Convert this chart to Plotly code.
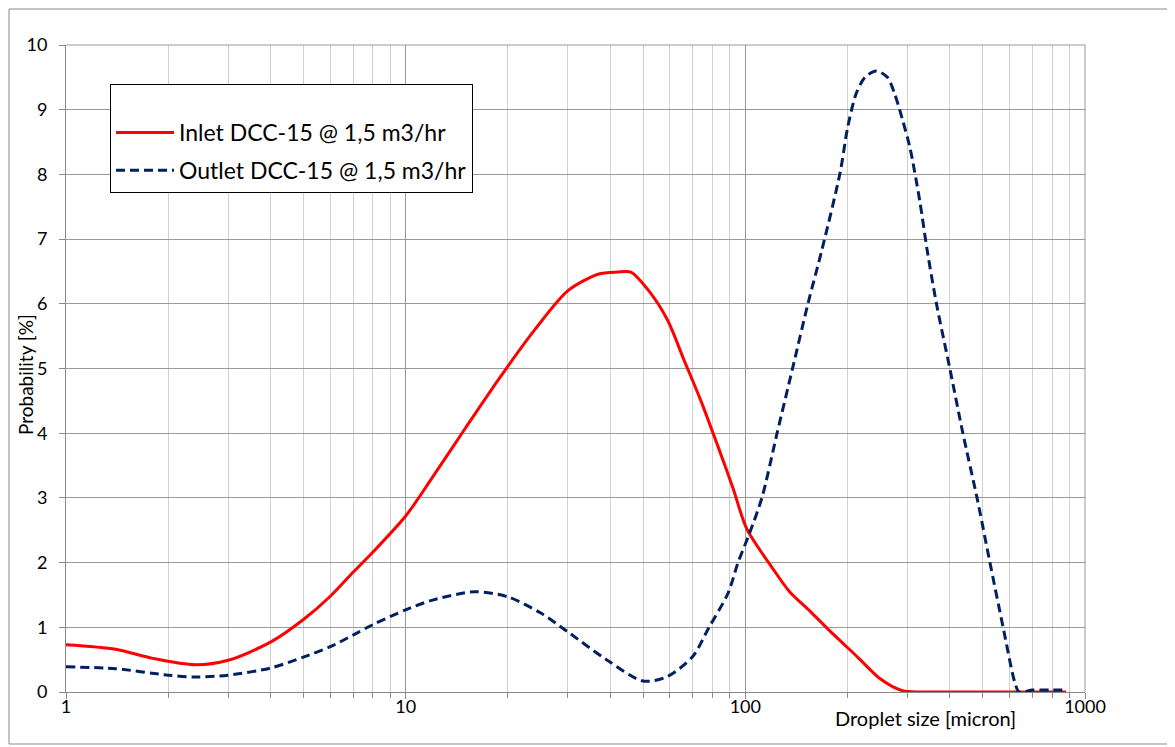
import plotly.graph_objects as go

# Inlet (red, solid)
inlet_x = [1, 1.4, 1.8, 2.4, 3, 4, 5, 6, 7, 8, 10, 12, 15, 19, 24, 30, 37, 42, 46, 52, 59, 66, 74, 83, 92, 101, 120, 135, 155, 176, 214, 250, 290, 330, 400, 500, 700, 880]
inlet_y = [0.73, 0.66, 0.52, 0.42, 0.49, 0.77, 1.12, 1.48, 1.85, 2.16, 2.72, 3.32, 4.08, 4.87, 5.6, 6.2, 6.46, 6.49, 6.49, 6.2, 5.75, 5.13, 4.5, 3.8, 3.15, 2.52, 1.92, 1.55, 1.25, 0.96, 0.54, 0.2, 0.02, 0.0, 0.0, 0.0, 0.0, 0.0]

# Outlet (navy, dashed)
outlet_x = [1, 1.4, 2, 2.4, 3, 4, 5, 6, 7, 8, 10, 12, 16, 20, 25, 30, 39, 50, 59, 70, 78, 89, 95, 103, 112, 124, 138, 153, 168, 190, 200, 212, 225, 243, 262, 275, 290, 305, 326, 343, 366, 400, 437, 481, 525, 574, 622, 640, 700, 800, 870]
outlet_y = [0.39, 0.36, 0.26, 0.23, 0.26, 0.37, 0.54, 0.7, 0.88, 1.04, 1.27, 1.42, 1.55, 1.47, 1.22, 0.93, 0.5, 0.17, 0.24, 0.55, 0.99, 1.53, 1.99, 2.46, 3.01, 4.0, 5.02, 6.01, 6.83, 8.02, 8.72, 9.25, 9.5, 9.6, 9.5, 9.25, 8.85, 8.42, 7.6, 6.83, 5.98, 5.0, 4.0, 3.0, 2.0, 1.0, 0.14, 0.0, 0.03, 0.03, 0.03]

x_ticks = [1, 10, 100, 1000]
x_tick_labels = ["1", "10", "100", "1000"]
y_ticks = list(range(0, 11))

FONT = "Lato"

# page body has an 8px margin; the figure is sized so that the plot area
# lands at x 66..1085, y 45..692 in the 1175x747 window
W, H = 1167, 739
ML, MR, MT, MB = 58, 90, 37, 55
PW = W - ML - MR
PH = H - MT - MB


def px(xp):  # page px -> paper x
    return (xp - 8 - ML) / PW


def py(yp):  # page px -> paper y
    return (H - MB - (yp - 8)) / PH


fig = go.Figure()
fig.add_trace(go.Scatter(
    x=inlet_x, y=inlet_y, mode="lines", name="Inlet DCC-15 @ 1,5 m3/hr",
    line=dict(color="#FF0000", width=3, shape="spline", smoothing=0.8),
    legendgroup="a",
))
fig.add_trace(go.Scatter(
    x=outlet_x, y=outlet_y, mode="lines", name="Outlet DCC-15 @ 1,5 m3/hr",
    line=dict(color="#002060", width=3, dash="9px,5px", shape="spline", smoothing=0.8),
    legendgroup="b",
))

fig.update_layout(
    width=W, height=H,
    margin=dict(l=ML, r=MR, t=MT, b=MB, autoexpand=False),
    paper_bgcolor="white", plot_bgcolor="white",
    font=dict(family=FONT, size=17, color="#000000"),
    showlegend=True,
    legend=dict(
        x=px(110), y=py(84), xanchor="left", yanchor="top",
        bgcolor="white", bordercolor="#000000", borderwidth=1,
        font=dict(family=FONT, size=23, color="#000000"),
        title=dict(text=" ", font=dict(size=20)),
        tracegroupgap=5, itemwidth=58,
    ),
    xaxis=dict(
        type="log", range=[0, 3],
        tickvals=x_ticks, ticktext=x_tick_labels,
        showgrid=True, gridcolor="#999999", gridwidth=1,
        showline=True, linecolor="#888888", linewidth=1,
        ticks="outside", ticklen=6, tickcolor="#888888",
        minor=dict(dtick="D1", showgrid=True, gridcolor="#D0D0D0", gridwidth=1,
                   ticks="outside", ticklen=5, tickcolor="#888888"),
        zeroline=False, mirror=False,
        tickfont=dict(family=FONT, size=18),
        ticklabelstandoff=-8,
    ),
    yaxis=dict(
        range=[0, 10], tickvals=y_ticks,
        showgrid=True, gridcolor="#999999", gridwidth=1,
        showline=True, linecolor="#888888", linewidth=1,
        ticks="outside", ticklen=6, tickcolor="#888888",
        zeroline=False,
        tickfont=dict(family=FONT, size=18),
        ticklabelstandoff=8,
    ),
    annotations=[
        dict(text="Droplet size [micron]", xref="paper", yref="paper",
             x=px(925), y=py(718), xanchor="center", yanchor="middle",
             showarrow=False, font=dict(family=FONT, size=20)),
        dict(text="Probability [%]", xref="paper", yref="paper",
             x=px(25), y=py(375), xanchor="center", yanchor="middle", textangle=-90,
             showarrow=False, font=dict(family=FONT, size=19)),
    ],
    shapes=[
        dict(type="rect", xref="paper", yref="paper",
             x0=px(9), x1=px(1170), y0=py(744), y1=py(9),
             line=dict(color="#888888", width=1), fillcolor="rgba(0,0,0,0)", layer="below"),
        dict(type="line", xref="paper", yref="paper", x0=1, x1=1, y0=0, y1=1,
             line=dict(color="#999999", width=1)),
        dict(type="line", xref="paper", yref="paper", x0=0, x1=1, y0=1, y1=1,
             line=dict(color="#999999", width=1)),
    ],
)

fig.write_html("out.html")
